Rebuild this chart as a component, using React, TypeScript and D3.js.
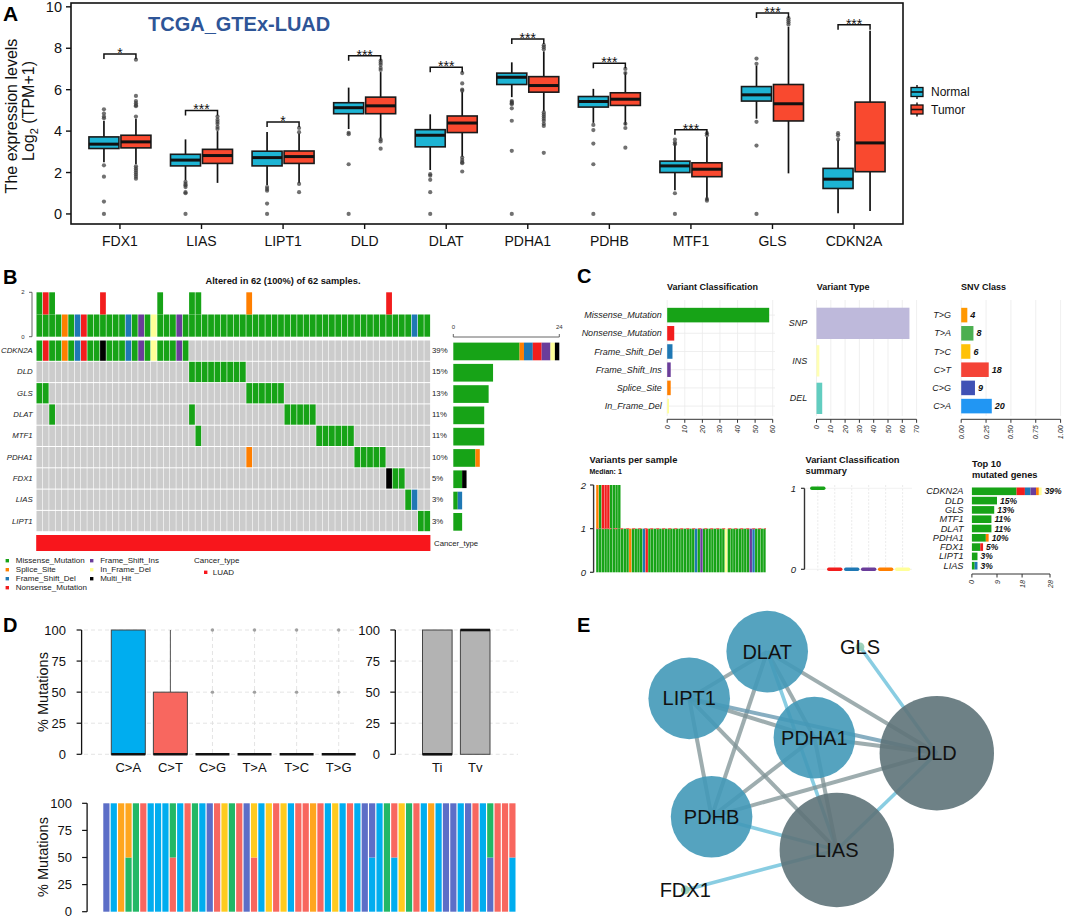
import React from "react";
import * as d3 from "d3";

const FONT = "'Liberation Sans', Arial, Helvetica, sans-serif";

// ================= Panel A data =================
const genesA = ["FDX1", "LIAS", "LIPT1", "DLD", "DLAT", "PDHA1", "PDHB", "MTF1", "GLS", "CDKN2A"];
const groupsA = ["Normal", "Tumor"];
const groupColA = ["#1DB4D4", "#F9492F"];
// [lower whisker, q1, median, q3, upper whisker]
const normalBox = [
  [2.5, 3.16, 3.37, 3.72, 4.5],
  [1.63, 2.32, 2.6, 2.88, 3.6],
  [1.4, 2.32, 2.72, 3.03, 3.96],
  [4.1, 4.84, 5.13, 5.37, 6.1],
  [2.12, 3.24, 3.8, 4.07, 4.81],
  [5.64, 6.25, 6.6, 6.8, 7.32],
  [4.4, 5.16, 5.43, 5.67, 6.04],
  [1.15, 2.0, 2.32, 2.55, 3.43],
  [4.6, 5.45, 5.75, 6.15, 7.16],
  [0.03, 1.23, 1.68, 2.2, 3.56],
];
const tumorBox = [
  [2.4, 3.19, 3.48, 3.8, 4.6],
  [1.5, 2.44, 2.82, 3.12, 4.0],
  [1.5, 2.44, 2.77, 3.04, 3.88],
  [3.64, 4.84, 5.22, 5.64, 6.85],
  [2.76, 3.93, 4.39, 4.73, 5.9],
  [4.95, 5.88, 6.2, 6.63, 7.85],
  [4.3, 5.24, 5.54, 5.85, 6.84],
  [0.67, 1.8, 2.16, 2.47, 3.72],
  [1.96, 4.49, 5.32, 6.25, 9.04],
  [0.14, 2.04, 3.43, 5.4, 8.85],
];
const normalOut = [
  [5.05, 4.85, 4.7, 4.62, 2.35, 1.8, 0.6, 0],
  [1.55, 1.45, 1.38, 1.3, 1.05, 1.0, 0],
  [1.3, 1.2, 1.12, 0.5, 0],
  [3.92, 3.85, 2.4, 0],
  [1.92, 1.85, 1.65, 1.05, 0],
  [5.45, 5.4, 5.35, 5.3, 5.1, 4.5, 3.05, 0],
  [4.3, 4.05, 3.4, 2.4, 0],
  [3.59, 3.45, 3.37, 1.0, 0],
  [7.5, 7.25, 4.45, 3.3, 0],
  [3.9, 3.8, 3.6],
];
const tumorOut = [
  [7.45, 5.7, 5.45, 5.35, 5.25, 5.2, 4.7, 2.3, 2.2, 2.1, 2.0, 1.9, 1.8, 1.7],
  [4.7, 4.55, 4.45, 4.35, 4.2, 4.1],
  [4.15, 3.95, 1.45, 1.05],
  [7.4, 7.3, 7.2, 7.05, 6.95, 3.6, 3.5, 3.15],
  [6.8, 6.3, 6.0, 5.95, 2.72, 2.6, 2.5, 2.45, 2.05],
  [8.15, 8.05, 7.95, 4.9, 4.8, 4.7, 4.6, 4.5, 4.35, 4.25, 2.95],
  [7.0, 6.8, 4.35, 4.15, 3.2],
  [3.9, 3.8, 0.72, 0.64],
  [9.45, 9.35, 9.25, 9.15],
  [],
];
const sigHeight = [7.72, 5.0, 4.44, 7.64, 7.08, 8.45, 7.28, 4.07, 9.7, 9.13];
const sigStars = ["*", "***", "*", "***", "***", "***", "***", "***", "***", "***"];
const yTicksA = [0, 2, 4, 6, 8, 10];

// ================= Panel B data =================
const vcCodes = ["M", "S", "D", "N", "I", "F", "H"];
const vcLabels = ["Missense_Mutation", "Splice_Site", "Frame_Shift_Del", "Nonsense_Mutation", "Frame_Shift_Ins", "In_Frame_Del", "Multi_Hit"];
const vcColors = ["#17A317", "#FF7F00", "#1F78B4", "#F21D1D", "#6A3D9A", "#FFFF99", "#000000"];
const oncoGenes = ["CDKN2A", "DLD", "GLS", "DLAT", "MTF1", "PDHA1", "FDX1", "LIAS", "LIPT1"];
const oncoPct = ["39%", "15%", "13%", "11%", "11%", "10%", "5%", "3%", "3%"];
const nSamples = 62;
// [first sample column, consecutive variant codes]
const oncoSegments = [
  [[0, "MNMMSMDNMMHMMMDMIMFMMMIM"]],
  [[24, "MMMMMMMMM"]],
  [[0, "MM"], [33, "MMMMMM"]],
  [[2, "M"], [24, "M"], [39, "MMMMM"]],
  [[25, "M"], [44, "MMMMMM"]],
  [[33, "S"], [50, "MMMMM"]],
  [[55, "HMM"]],
  [[58, "MD"]],
  [[60, "MM"]],
];
// variants per sample (bottom to top) for the top bar
const tmbStack = [
  "MM", "MN", "MM", "M", "S", "M", "D", "N", "M", "M",
  "MN", "M", "M", "M", "D", "M", "I", "M", "F", "MM",
  "M", "M", "I", "M", "MM", "MM", "M", "M", "M", "M",
  "M", "M", "M", "MS", "M", "M", "M", "M", "M", "M",
  "M", "M", "M", "M", "M", "M", "M", "M", "M", "M",
  "M", "M", "M", "M", "M", "MN", "M", "M", "M", "D",
  "M", "M",
];

// ================= Panel C data =================
const vcNames = ["Missense_Mutation", "Nonsense_Mutation", "Frame_Shift_Del", "Frame_Shift_Ins", "Splice_Site", "In_Frame_Del"];
const vcNameCodes = ["M", "N", "D", "I", "S", "F"];
const vcCounts = [58, 4, 3, 2, 2, 1];
const vtNames = ["SNP", "INS", "DEL"];
const vtCounts = [65, 2, 4];
const vtColors = ["#BEB9DB", "#FFFFB3", "#62CDC0"];
const snvNames = ["T>G", "T>A", "T>C", "C>T", "C>G", "C>A"];
const snvCounts = [4, 8, 6, 18, 9, 20];
const snvColors = ["#FF9800", "#4CAF50", "#FFC107", "#F44336", "#3F51B5", "#2196F3"];
const vpsBase = ["MMMMMMMMMMMM", "S", "MMMM", "DN", "MMMMMMMMMMMMMMMMM", "DMI", "MMMMMMMM", "F", "MMMMMMMM", "ID", "MMMM"].join("");
const vpsTop = ["S", "M", "N", "N", "N", "M", "M", "M", "M"];
const vpsMedian = 1;
const vcSummary = [1, 0, 0, 0, 0, 0];
const top10Genes = ["CDKN2A", "DLD", "GLS", "MTF1", "DLAT", "PDHA1", "FDX1", "LIPT1", "LIAS"];
const top10Pct = ["39%", "15%", "13%", "11%", "11%", "10%", "5%", "3%", "3%"];
// counts in order M, N, D, I, S, F
const top10Counts = [[16, 3, 2, 2, 1, 1], [9], [8], [7], [7], [5, 0, 0, 0, 1], [3, 1], [2], [1, 0, 1]];
const top10Ticks = [0, 9, 18, 28];

// ================= Panel D data =================
const titvCats = ["C>A", "C>T", "C>G", "T>A", "T>C", "T>G"];
const titvColors = ["#00ADEF", "#F8675F", "#5C6EC7", "#22B866", "#FFCB1F", "#FFA61E"];
// [lower whisker, q1, median, q3, upper whisker]
const titvBox = [
  [0, 0, 0, 100, 100],
  [0, 0, 0, 50, 100],
  [0, 0, 0, 0, 0],
  [0, 0, 0, 0, 0],
  [0, 0, 0, 0, 0],
  [0, 0, 0, 0, 0],
];
const titvOut = [[], [], [100, 50], [100, 50], [100, 50], [100, 50]];
const tiTvCats = ["Ti", "Tv"];
const tiTvBox = [[0, 0, 0, 100, 100], [0, 0, 100, 100, 100]];
const pctTicks = [0, 25, 50, 75, 100];
const sampleTitv = [
  ["C>G"], ["C>A"], ["T>G"], ["T>A", "T>G"], ["T>A"], ["C>T"], ["C>A"], ["C>A"], ["C>A"], ["C>T", "T>A"],
  ["C>A"], ["C>T"], ["T>A"], ["C>A"], ["C>G"], ["C>T"], ["T>C"], ["T>A"], ["C>T"], ["C>G"],
  ["C>T", "T>C"], ["C>A"], ["T>C"], ["C>T"], ["T>C"], ["C>A"], ["C>T"], ["C>T"], ["T>G"], ["C>T"],
  ["C>A"], ["T>C"], ["C>A"], ["C>T"], ["C>A"], ["C>G"], ["C>A", "C>G"], ["C>A"], ["T>A"], ["C>A", "C>T"],
  ["T>C"], ["T>A"], ["C>T"], ["C>A"], ["T>G"], ["C>A"], ["C>G"], ["C>G"], ["C>A"], ["C>G"],
  ["C>T"], ["C>A"], ["C>G", "T>A"], ["C>T"], ["C>T"], ["C>A", "C>T"],
];

// ================= Panel E data =================
const netNodes = ["DLAT", "LIPT1", "PDHA1", "PDHB", "DLD", "LIAS", "GLS", "FDX1"];
const netX = [41.8, 22.3, 53.6, 27.9, 84.2, 59.2, 65.0, 21.3];
const netY = [12.9, 24.6, 34.4, 54.2, 38.3, 62.5, 11.7, 72.5];
const netSize = [10.2, 10.2, 10.2, 10.2, 14.3, 14.3, 1.1, 1.1];
const netNodeColor = ["#4399B8", "#4399B8", "#4399B8", "#4399B8", "#5E7379", "#5E7379", "#93CCB2", "#93CCB2"];
const netEdges = [
  ["DLAT", "LIPT1", "g"], ["DLAT", "PDHA1", "g"], ["DLAT", "PDHB", "g"], ["DLAT", "DLD", "g"],
  ["DLAT", "LIAS", "b"], ["LIPT1", "PDHB", "g"], ["LIPT1", "DLD", "s"], ["LIPT1", "PDHA1", "g"],
  ["LIPT1", "LIAS", "g"], ["PDHA1", "PDHB", "g"], ["PDHA1", "DLD", "g"], ["PDHA1", "LIAS", "g"],
  ["PDHB", "DLD", "g"], ["PDHB", "LIAS", "b"], ["DLD", "LIAS", "b"], ["GLS", "DLD", "b"], ["FDX1", "LIAS", "b"],
];
const edgeColor = { g: "#7E9194", b: "#7CC8DF", s: "#5F93AC" };

// ================= helpers =================
const colorOf = (c) => vcColors[vcCodes.indexOf(c)];

function Label({ x, y, t, size = 20 }) {
  return (
    <text x={x} y={y} fontSize={size} fontWeight="bold" fill="#000">{t}</text>
  );
}

// ================= Panel A =================
function PanelA() {
  const x = d3.scalePoint().domain(genesA).range([71, 903]).padding(0.6);
  const y = d3.scaleLinear().domain([-0.485, 10.185]).range([224, 3]);
  const dodge = d3.scalePoint().domain(groupsA).range([-16, 16]);
  const bw = 30;
  const boxes = [normalBox, tumorBox];
  const outs = [normalOut, tumorOut];
  return (
    <g>
      <Label x={3} y={21} t="A" size={21} />
      <text x={148} y={31} fontSize={20} fontWeight="bold" fill="#2E5597">TCGA_GTEx-LUAD</text>
      {genesA.map((g, i) => (
        <g key={g}>
          {groupsA.map((grp, k) => {
            const cx = x(g) + dodge(grp);
            const [lo, q1, md, q3, hi] = boxes[k][i].map(y);
            return (
              <g key={grp}>
                <line x1={cx} x2={cx} y1={lo} y2={q1} stroke="#111" strokeWidth={1.7} />
                <line x1={cx} x2={cx} y1={q3} y2={hi} stroke="#111" strokeWidth={1.7} />
                {outs[k][i].map((v, j) => (
                  <circle key={j} cx={cx} cy={y(v)} r={2.1} fill="#3a3a3a" opacity={0.72} />
                ))}
                <rect x={cx - bw / 2} y={q3} width={bw} height={q1 - q3} fill={groupColA[k]} stroke="#1a1a1a" strokeWidth={1.6} />
                <line x1={cx - bw / 2} x2={cx + bw / 2} y1={md} y2={md} stroke="#111" strokeWidth={3} />
              </g>
            );
          })}
          {(() => {
            const x1 = x(g) + dodge("Normal");
            const x2 = x(g) + dodge("Tumor");
            const yb = y(sigHeight[i]);
            return (
              <g>
                <path d={`M${x1},${yb + 5}V${yb}H${x2}V${yb + 5}`} fill="none" stroke="#111" strokeWidth={1.5} />
                <text x={(x1 + x2) / 2} y={yb + 4} fontSize={14} textAnchor="middle" fill="#111">{sigStars[i]}</text>
              </g>
            );
          })()}
        </g>
      ))}
      <rect x={71} y={3} width={832} height={221} fill="none" stroke="#111" strokeWidth={1.6} />
      {yTicksA.map((t) => (
        <g key={t}>
          <line x1={66} x2={71} y1={y(t)} y2={y(t)} stroke="#111" strokeWidth={1.4} />
          <text x={62} y={y(t) + 5} fontSize={14.5} textAnchor="end" fill="#111">{t}</text>
        </g>
      ))}
      {genesA.map((g) => (
        <g key={g}>
          <line x1={x(g)} x2={x(g)} y1={224} y2={229} stroke="#111" strokeWidth={1.4} />
          <text x={x(g)} y={246} fontSize={14} textAnchor="middle" fill="#111">{g}</text>
        </g>
      ))}
      <text transform="translate(17,116) rotate(-90)" fontSize={16} textAnchor="middle" fill="#111">The expression levels</text>
      <text transform="translate(34,111) rotate(-90)" fontSize={16} textAnchor="middle" fill="#111">
        Log<tspan fontSize={11} dy={4}>2</tspan><tspan dy={-4}> (TPM+1)</tspan>
      </text>
      {groupsA.map((grp, k) => {
        const cy = 92 + k * 17.5;
        return (
          <g key={grp}>
            <line x1={917} x2={917} y1={cy - 7} y2={cy + 7} stroke="#111" strokeWidth={1.4} />
            <rect x={911} y={cy - 4.5} width={12} height={9} fill={groupColA[k]} stroke="#111" strokeWidth={1.3} />
            <line x1={911} x2={923} y1={cy} y2={cy} stroke="#111" strokeWidth={1.6} />
            <text x={931} y={cy} fontSize={12} dominantBaseline="central" fill="#111">{grp}</text>
          </g>
        );
      })}
    </g>
  );
}

// ================= Panel B =================
function PanelB() {
  const cols = d3.range(nSamples);
  const x = d3.scaleBand().domain(cols).range([36.2, 430.4]);
  const y = d3.scaleBand().domain(oncoGenes).range([340, 531.7]);
  const yTop = d3.scaleLinear().domain([0, 2]).range([336.7, 292.3]);
  const xR = d3.scaleLinear().domain([0, 24]).range([453.3, 559.3]);
  const grid = oncoSegments.map((segs) => {
    const row = new Array(nSamples).fill(".");
    segs.forEach(([s, codes]) => codes.split("").forEach((c, k) => (row[s + k] = c)));
    return row;
  });
  const bw = x.bandwidth();
  const bh = y.bandwidth();
  return (
    <g>
      <Label x={3} y={284} t="B" size={20} />
      <text x={283} y={284} fontSize={9.3} fontWeight="bold" textAnchor="middle" fill="#111">Altered in 62 (100%) of 62 samples.</text>
      {/* top bar */}
      {tmbStack.map((st, c) =>
        st.split("").map((code, k) => (
          <rect key={c + "-" + k} x={x(c) + 0.3} width={bw - 0.6} y={yTop(k + 1)} height={yTop(k) - yTop(k + 1)} fill={colorOf(code)} />
        ))
      )}
      <line x1={32} x2={32} y1={yTop(2)} y2={yTop(0)} stroke="#555" strokeWidth={0.9} />
      {[0, 2].map((t) => (
        <g key={t}>
          <line x1={29} x2={32} y1={yTop(t)} y2={yTop(t)} stroke="#555" strokeWidth={0.9} />
          <text x={23} y={yTop(t)} fontSize={6} textAnchor="middle" dominantBaseline="central" fill="#333">{t}</text>
        </g>
      ))}
      {/* grid */}
      {oncoGenes.map((g, r) => (
        <g key={g}>
          {cols.map((c) => (
            <rect key={c} x={x(c) + 0.3} width={bw - 0.6} y={y(g) + 0.5} height={bh - 1}
              fill={grid[r][c] === "." ? "#CCCCCC" : colorOf(grid[r][c])} />
          ))}
          <text x={32.7} y={y(g) + bh / 2} fontSize={7.8} fontStyle="italic" textAnchor="end" dominantBaseline="central" fill="#222">{g}</text>
          <text x={432} y={y(g) + bh / 2} fontSize={7.8} dominantBaseline="central" fill="#222">{oncoPct[r]}</text>
          {(() => {
            let acc = 0;
            return vcCodes.map((code) => {
              const n = grid[r].filter((v) => v === code).length;
              if (!n) return null;
              const el = (
                <rect key={code} x={xR(acc)} width={xR(acc + n) - xR(acc)} y={y(g) + 2.6} height={bh - 3.6} fill={colorOf(code)} />
              );
              acc += n;
              return el;
            });
          })()}
        </g>
      ))}
      <line x1={xR(0)} x2={xR(24)} y1={337} y2={337} stroke="#555" strokeWidth={0.9} />
      {[0, 24].map((t) => (
        <g key={t}>
          <line x1={xR(t)} x2={xR(t)} y1={334} y2={337} stroke="#555" strokeWidth={0.9} />
          <text x={xR(t)} y={329} fontSize={6} textAnchor="middle" fill="#333">{t}</text>
        </g>
      ))}
      <rect x={36.2} y={535} width={394.2} height={16} fill="#F8161C" />
      <text x={434} y={543} fontSize={7.8} dominantBaseline="central" fill="#222">Cancer_type</text>
      {/* legend */}
      {vcLabels.map((lab, i) => {
        const colI = i < 4 ? 0 : 1;
        const rowI = i < 4 ? i : i - 4;
        const lx = colI === 0 ? 7.3 : 91.7;
        const ly = 560.7 + rowI * 9;
        return (
          <g key={lab}>
            <rect x={lx - 1.7} y={ly - 1.7} width={3.4} height={3.4} fill={vcColors[i]} />
            <text x={lx + 8.5} y={ly} fontSize={8} dominantBaseline="central" fill="#222">{lab}</text>
          </g>
        );
      })}
      <text x={194} y={560.7} fontSize={8} dominantBaseline="central" fill="#222">Cancer_type</text>
      <rect x={204} y={570.6} width={3.4} height={3.4} fill="#F8161C" />
      <text x={212.7} y={572.3} fontSize={8} dominantBaseline="central" fill="#222">LUAD</text>
    </g>
  );
}

// ================= Panel C =================
function BottomAxis({ scale, ticks, y, fmt }) {
  const r = scale.range();
  return (
    <g>
      <line x1={r[0]} x2={r[1]} y1={y} y2={y} stroke="#333" strokeWidth={1} />
      {ticks.map((t) => (
        <g key={t}>
          <line x1={scale(t)} x2={scale(t)} y1={y} y2={y + 3.5} stroke="#333" strokeWidth={1} />
          <text transform={`translate(${scale(t)},${y + 6}) rotate(-90)`} fontSize={7.2} fontStyle="italic" textAnchor="end" dominantBaseline="central" fill="#333">{fmt ? fmt(t) : t}</text>
        </g>
      ))}
    </g>
  );
}

function PanelC() {
  const rows6 = d3.scaleBand().domain(d3.range(6)).range([306, 415.2]).paddingInner(0.2).paddingOuter(0.1);
  const rows3 = d3.scaleBand().domain(d3.range(3)).range([304.6, 417.1]).paddingInner(0.165).paddingOuter(0.0825);
  const xVC = d3.scaleLinear().domain([0, 60]).range([667.2, 772.7]);
  const xVT = d3.scaleLinear().domain([0, 70]).range([816.5, 916.6]);
  const xSNV = d3.scaleLinear().domain([0, 1]).range([961.2, 1060.6]);
  const snvTotal = d3.sum(snvCounts);
  const gridC = "#EBEBEB";

  const xVPS = d3.scaleBand().domain(d3.range(nSamples)).range([596.2, 766]);
  const yVPS = d3.scaleLinear().domain([0, 2]).range([572.3, 485]);
  const xSum = d3.scalePoint().domain(vcNameCodes).range([817.8, 902.6]);
  const ySum = d3.scaleLinear().domain([0, 1]).range([569.3, 488.3]);
  const rowsT = d3.scaleBand().domain(top10Genes).range([486.65, 570.35]).paddingInner(0.18).paddingOuter(0.09);
  const xT = d3.scaleLinear().domain([0, 28]).range([971.9, 1050]);

  return (
    <g>
      <Label x={577} y={283} t="C" size={20} />
      {/* Variant Classification */}
      <text x={667} y={289.5} fontSize={9} fontWeight="bold" fill="#111">Variant Classification</text>
      {d3.range(0, 61, 10).map((t) => (
        <line key={t} x1={xVC(t)} x2={xVC(t)} y1={300} y2={416} stroke={gridC} strokeWidth={0.8} />
      ))}
      {vcNames.map((n, i) => (
        <g key={n}>
          <line x1={667} x2={775} y1={rows6(i) + rows6.bandwidth() / 2} y2={rows6(i) + rows6.bandwidth() / 2} stroke={gridC} strokeWidth={0.8} />
          <rect x={xVC(0)} y={rows6(i)} width={xVC(vcCounts[i]) - xVC(0)} height={rows6.bandwidth()} fill={colorOf(vcNameCodes[i])} />
          <text x={661.7} y={rows6(i) + rows6.bandwidth() / 2} fontSize={9} fontStyle="italic" textAnchor="end" dominantBaseline="central" fill="#222">{n}</text>
        </g>
      ))}
      <BottomAxis scale={xVC} ticks={d3.range(0, 61, 10)} y={419.3} />

      {/* Variant Type */}
      <text x={816.7} y={289.5} fontSize={9} fontWeight="bold" fill="#111">Variant Type</text>
      {d3.range(0, 71, 10).map((t) => (
        <line key={t} x1={xVT(t)} x2={xVT(t)} y1={300} y2={416} stroke={gridC} strokeWidth={0.8} />
      ))}
      {vtNames.map((n, i) => (
        <g key={n}>
          <rect x={xVT(0)} y={rows3(i)} width={xVT(vtCounts[i]) - xVT(0)} height={rows3.bandwidth()} fill={vtColors[i]} />
          <text x={807.3} y={rows3(i) + rows3.bandwidth() / 2} fontSize={9} fontStyle="italic" textAnchor="end" dominantBaseline="central" fill="#222">{n}</text>
        </g>
      ))}
      <BottomAxis scale={xVT} ticks={d3.range(0, 71, 10)} y={419.3} />

      {/* SNV Class */}
      <text x={961} y={289.5} fontSize={9} fontWeight="bold" fill="#111">SNV Class</text>
      {[0, 0.25, 0.5, 0.75, 1].map((t) => (
        <line key={t} x1={xSNV(t)} x2={xSNV(t)} y1={300} y2={416} stroke={gridC} strokeWidth={0.8} />
      ))}
      {snvNames.map((n, i) => {
        const end = xSNV(snvCounts[i] / snvTotal);
        return (
          <g key={n}>
            <rect x={xSNV(0)} y={rows6(i)} width={end - xSNV(0)} height={rows6.bandwidth()} fill={snvColors[i]} />
            <text x={end + 3} y={rows6(i) + rows6.bandwidth() / 2} fontSize={9} fontWeight="bold" fontStyle="italic" dominantBaseline="central" fill="#111">{snvCounts[i]}</text>
            <text x={951} y={rows6(i) + rows6.bandwidth() / 2} fontSize={9} fontStyle="italic" textAnchor="end" dominantBaseline="central" fill="#222">{n}</text>
          </g>
        );
      })}
      <BottomAxis scale={xSNV} ticks={[0, 0.25, 0.5, 0.75, 1]} y={419.3} fmt={(t) => t.toFixed(2)} />

      {/* Variants per sample */}
      <text x={589.5} y={462.5} fontSize={9.3} fontWeight="bold" fill="#111">Variants per sample</text>
      <text x={589.5} y={473.5} fontSize={7} fontWeight="bold" fill="#111">Median: 1</text>
      {d3.range(nSamples).map((c) => (
        <g key={c}>
          <rect x={xVPS(c)} width={xVPS.bandwidth() - 0.35} y={yVPS(1)} height={yVPS(0) - yVPS(1)} fill={colorOf(vpsBase[c])} />
          {c < vpsTop.length && (
            <rect x={xVPS(c)} width={xVPS.bandwidth() - 0.35} y={yVPS(2)} height={yVPS(1) - yVPS(2)} fill={colorOf(vpsTop[c])} />
          )}
        </g>
      ))}
      <line x1={596.2} x2={766} y1={yVPS(vpsMedian)} y2={yVPS(vpsMedian)} stroke="#F56B6B" strokeWidth={1.3} strokeDasharray="3,3" />
      <line x1={593.6} x2={593.6} y1={yVPS(2)} y2={yVPS(0)} stroke="#333" strokeWidth={1.4} />
      {[0, 1, 2].map((t) => (
        <g key={t}>
          <line x1={590} x2={593.6} y1={yVPS(t)} y2={yVPS(t)} stroke="#333" strokeWidth={1.2} />
          <text x={586} y={yVPS(t)} fontSize={9.5} fontStyle="italic" textAnchor="end" dominantBaseline="central" fill="#222">{t}</text>
        </g>
      ))}

      {/* Variant Classification summary */}
      <text x={805.5} y={462.5} fontSize={9.3} fontWeight="bold" fill="#111">Variant Classification</text>
      <text x={805.5} y={474} fontSize={9.3} fontWeight="bold" fill="#111">summary</text>
      {vcNameCodes.map((c) => (
        <line key={c} x1={xSum(c)} x2={xSum(c)} y1={485} y2={572} stroke="#E6E6E6" strokeWidth={0.8} strokeDasharray="2,1.5" />
      ))}
      {[0, 1].map((t) => (
        <line key={t} x1={806} x2={912} y1={ySum(t)} y2={ySum(t)} stroke="#EDEDED" strokeWidth={0.8} />
      ))}
      {vcNameCodes.map((c, i) => (
        <line key={c} x1={xSum(c) - 6} x2={xSum(c) + 6} y1={ySum(vcSummary[i])} y2={ySum(vcSummary[i])} stroke={colorOf(c)} strokeWidth={3.4} strokeLinecap="round" />
      ))}
      <line x1={804.5} x2={804.5} y1={ySum(1)} y2={ySum(0)} stroke="#333" strokeWidth={1.4} />
      {[0, 1].map((t) => (
        <g key={t}>
          <line x1={801} x2={804.5} y1={ySum(t)} y2={ySum(t)} stroke="#333" strokeWidth={1.2} />
          <text x={796} y={ySum(t)} fontSize={9.5} fontStyle="italic" textAnchor="end" dominantBaseline="central" fill="#222">{t}</text>
        </g>
      ))}

      {/* Top 10 mutated genes */}
      <text x={971.9} y={466.5} fontSize={9.3} fontWeight="bold" fill="#111">Top 10</text>
      <text x={971.9} y={477.5} fontSize={9.3} fontWeight="bold" fill="#111">mutated genes</text>
      {top10Genes.map((g, i) => {
        let acc = 0;
        const segs = top10Counts[i].map((n, k) => {
          const el = n ? (
            <rect key={k} x={xT(acc)} width={xT(acc + n) - xT(acc)} y={rowsT(g)} height={rowsT.bandwidth()} fill={colorOf(vcNameCodes[k])} />
          ) : null;
          acc += n;
          return el;
        });
        const cy = rowsT(g) + rowsT.bandwidth() / 2;
        return (
          <g key={g}>
            {segs}
            <text x={xT(acc) + 3} y={cy} fontSize={8.5} fontWeight="bold" fontStyle="italic" dominantBaseline="central" fill="#111">{top10Pct[i]}</text>
            <text x={963.5} y={cy} fontSize={9.2} fontStyle="italic" textAnchor="end" dominantBaseline="central" fill="#222">{g}</text>
          </g>
        );
      })}
      <BottomAxis scale={xT} ticks={top10Ticks} y={574} />
    </g>
  );
}

// ================= Panel D =================
function PanelD() {
  const yT = d3.scaleLinear().domain([0, 100]).range([754.3, 630]);
  const xT = d3.scalePoint().domain(titvCats).range([128.3, 338.7]);
  const xTT = d3.scalePoint().domain(tiTvCats).range([437.3, 475.2]);
  const yB = d3.scaleLinear().domain([0, 100]).range([911.7, 803.3]);
  const xB = d3.scaleBand().domain(d3.range(sampleTitv.length)).range([102.7, 516.1]).paddingInner(0.16).paddingOuter(0.08);
  const gridD = "#DDDDDD";
  const yAxis = (scale, ax, lx) =>
    pctTicks.map((t) => (
      <g key={t}>
        <line x1={ax - 5} x2={ax} y1={scale(t)} y2={scale(t)} stroke="#111" strokeWidth={1.2} />
        <text x={lx} y={scale(t)} fontSize={13} textAnchor="end" dominantBaseline="central" fill="#111">{t}</text>
      </g>
    ));
  const box = (cx, w, st, fill, key) => {
    const [lo, q1, md, q3, hi] = st.map(yT);
    return (
      <g key={key}>
        {hi < q3 && <line x1={cx} x2={cx} y1={q3} y2={hi} stroke="#555" strokeWidth={1} />}
        {q1 > q3 && <rect x={cx - w / 2} y={q3} width={w} height={q1 - q3} fill={fill} stroke="#444" strokeWidth={1} />}
        <line x1={cx - w / 2} x2={cx + w / 2} y1={md} y2={md} stroke="#111" strokeWidth={2.6} />
      </g>
    );
  };
  return (
    <g>
      <Label x={3} y={632} t="D" size={20} />
      {pctTicks.map((t) => (
        <g key={t}>
          <line x1={84} x2={355} y1={yT(t)} y2={yT(t)} stroke={gridD} strokeWidth={0.8} strokeDasharray="4,3" />
          <line x1={397.7} x2={518} y1={yT(t)} y2={yT(t)} stroke={gridD} strokeWidth={0.8} strokeDasharray="4,3" />
        </g>
      ))}
      {titvCats.map((c) => (
        <line key={c} x1={xT(c)} x2={xT(c)} y1={630} y2={754.3} stroke={gridD} strokeWidth={0.8} strokeDasharray="4,3" />
      ))}
      {tiTvCats.map((c) => (
        <line key={c} x1={xTT(c)} x2={xTT(c)} y1={630} y2={754.3} stroke={gridD} strokeWidth={0.8} strokeDasharray="4,3" />
      ))}
      {titvCats.map((c, i) => (
        <g key={c}>
          {titvOut[i].map((v) => (
            <circle key={v} cx={xT(c)} cy={yT(v)} r={1.7} fill="#A0A0A0" />
          ))}
          {box(xT(c), 34, titvBox[i], titvColors[i], c)}
          <text x={xT(c)} y={771.5} fontSize={13} textAnchor="middle" fill="#111">{c}</text>
        </g>
      ))}
      {tiTvCats.map((c, i) => (
        <g key={c}>
          {box(xTT(c), 29.6, tiTvBox[i], "#B3B3B3", c)}
          <text x={xTT(c)} y={771.5} fontSize={13} textAnchor="middle" fill="#111">{c}</text>
        </g>
      ))}
      <line x1={81.6} x2={81.6} y1={yT(100)} y2={yT(0)} stroke="#111" strokeWidth={1.3} />
      {yAxis(yT, 81.6, 66)}
      <line x1={395.3} x2={395.3} y1={yT(100)} y2={yT(0)} stroke="#111" strokeWidth={1.3} />
      {yAxis(yT, 395.3, 380)}
      <text transform="translate(48,692) rotate(-90)" fontSize={14.5} textAnchor="middle" fill="#111">% Mutations</text>

      {sampleTitv.map((classes, s) => {
        const order = titvCats.slice().sort();
        const sorted = classes.slice().sort((a, b) => order.indexOf(a) - order.indexOf(b));
        const share = 100 / sorted.length;
        return sorted.map((cl, k) => (
          <rect key={s + "-" + k} x={xB(s)} width={xB.bandwidth()} y={yB(share * (k + 1))} height={yB(share * k) - yB(share * (k + 1))}
            fill={titvColors[titvCats.indexOf(cl)]} />
        ));
      })}
      <line x1={87.1} x2={87.1} y1={yB(100)} y2={yB(0)} stroke="#111" strokeWidth={1.3} />
      {yAxis(yB, 87.1, 72)}
      <text transform="translate(48,857) rotate(-90)" fontSize={14.5} textAnchor="middle" fill="#111">% Mutations</text>
    </g>
  );
}

// ================= Panel E =================
function PanelE() {
  const sx = d3.scaleLinear().domain([0, 100]).range([600, 1000]);
  const sy = d3.scaleLinear().domain([0, 100]).range([600, 1000]);
  const idx = (n) => netNodes.indexOf(n);
  return (
    <g>
      <Label x={577} y={632} t="E" size={20} />
      {netEdges.map(([a, b, t], i) => (
        <line key={i} x1={sx(netX[idx(a)])} y1={sy(netY[idx(a)])} x2={sx(netX[idx(b)])} y2={sy(netY[idx(b)])}
          stroke={edgeColor[t]} strokeWidth={t === "b" ? 3.6 : 4} strokeOpacity={t === "b" ? 0.9 : 0.75} />
      ))}
      {netNodes.map((n, i) => (
        <circle key={n} cx={sx(netX[i])} cy={sy(netY[i])} r={sx(netSize[i]) - sx(0)} fill={netNodeColor[i]} opacity={0.9} />
      ))}
      {netNodes.map((n, i) => (
        <text key={n} x={sx(netX[i])} y={sy(netY[i])} fontSize={20} textAnchor="middle" dominantBaseline="central" fill="#111">{n}</text>
      ))}
    </g>
  );
}

export default function App() {
  return (
    <svg width={1065} height={918} viewBox="0 0 1065 918" style={{ position: "absolute", left: 0, top: 0, background: "#fff" }} fontFamily={FONT}>
      <rect width={1065} height={918} fill="#fff" />
      <PanelA />
      <PanelB />
      <PanelC />
      <PanelD />
      <PanelE />
    </svg>
  );
}
